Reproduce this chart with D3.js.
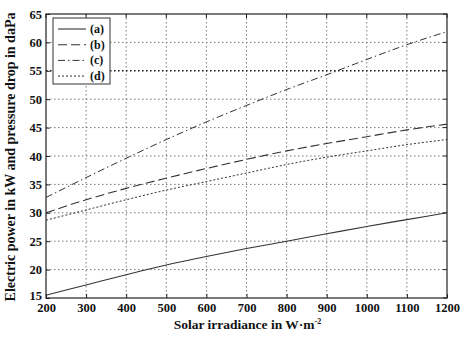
<!DOCTYPE html>
<html>
<head>
<meta charset="utf-8">
<script src="https://cdn.jsdelivr.net/npm/d3@7"></script>
<style>
  html, body { margin: 0; padding: 0; background: #fff; }
  svg { display: block; }
  text { font-family: "Liberation Serif", "Times New Roman", serif; font-weight: bold; fill: #111; }
</style>
</head>
<body>
<script>
// Solar irradiance (W·m^-2) sample points
const irradiance = [200, 300, 400, 500, 600, 700, 800, 900, 1000, 1100, 1200];
// Curves (a)–(d): electric power in kW / pressure drop in daPa
const seriesA = [15.5, 17.3, 19.1, 20.8, 22.3, 23.7, 25.0, 26.3, 27.6, 28.8, 30.0];
const seriesB = [30.0, 32.3, 34.3, 36.1, 37.8, 39.4, 40.9, 42.2, 43.4, 44.6, 45.6];
const seriesC = [32.7, 36.2, 39.6, 42.9, 46.0, 48.9, 51.7, 54.3, 57.0, 59.6, 61.9];
const seriesD = [28.7, 30.5, 32.3, 34.0, 35.5, 37.0, 38.5, 39.8, 40.9, 42.0, 42.9];
const seriesNames = ["(a)", "(b)", "(c)", "(d)"];
const xTicks = [200, 300, 400, 500, 600, 700, 800, 900, 1000, 1100, 1200];
const yTicks = [15, 20, 25, 30, 35, 40, 45, 50, 55, 60, 65];

const W = 474, H = 348;
const m = { left: 46, right: 27, top: 14, bottom: 50 };
const iw = W - m.left - m.right, ih = H - m.top - m.bottom;

const svg = d3.select("body").append("svg").attr("width", W).attr("height", H);
const g = svg.append("g").attr("transform", `translate(${m.left},${m.top})`);

const x = d3.scaleLinear().domain([200, 1200]).range([0, iw]);
const y = d3.scaleLinear().domain([15, 65]).range([ih, 0]);

// grid
g.append("g").selectAll("line").data(xTicks.slice(1, -1)).join("line")
  .attr("x1", d => x(d)).attr("x2", d => x(d)).attr("y1", 0).attr("y2", ih)
  .attr("stroke", "#777").attr("stroke-width", 1).attr("stroke-dasharray", "1.5,2.5");
g.append("g").selectAll("line").data(yTicks.slice(1, -1)).join("line")
  .attr("x1", 0).attr("x2", iw).attr("y1", d => y(d)).attr("y2", d => y(d))
  .attr("stroke", d => d === 55 ? "#111" : "#777")
  .attr("stroke-width", d => d === 55 ? 1.4 : 1)
  .attr("stroke-dasharray", "1.5,2.5");

// axes with inward ticks
const fmt = d3.format("d");
const xAxis = g.append("g").attr("transform", `translate(0,${ih})`)
  .call(d3.axisBottom(x).tickValues(xTicks).tickFormat(fmt).tickSizeInner(-4).tickSizeOuter(0).tickPadding(5));
const yAxis = g.append("g")
  .call(d3.axisLeft(y).tickValues(yTicks).tickFormat(fmt).tickSizeInner(-4).tickSizeOuter(0).tickPadding(4));
[xAxis, yAxis].forEach(a => {
  a.select(".domain").remove();
  a.selectAll("line").attr("stroke", "#222");
  a.selectAll("text").style("font-size", "12.5px").style("font-family", "Liberation Serif, serif").style("font-weight", "bold");
});
// lift the lowest y label clear of the first x label
yAxis.selectAll(".tick text").filter(d => d === 15).attr("dy", "0.1em");

// right/top inward ticks
g.append("g").selectAll("line").data(xTicks).join("line")
  .attr("x1", d => x(d)).attr("x2", d => x(d)).attr("y1", 0).attr("y2", 4).attr("stroke", "#222");
g.append("g").selectAll("line").data(yTicks).join("line")
  .attr("x1", iw).attr("x2", iw - 4).attr("y1", d => y(d)).attr("y2", d => y(d)).attr("stroke", "#222");

// frame
g.append("rect").attr("x", 0).attr("y", 0).attr("width", iw).attr("height", ih)
  .attr("fill", "none").attr("stroke", "#222").attr("stroke-width", 1.2);

// curves
const styles = [
  { data: seriesA, dash: null, w: 1.1 },
  { data: seriesB, dash: "9,4", w: 1.1 },
  { data: seriesC, dash: "7,3,1.5,3", w: 1 },
  { data: seriesD, dash: "2,2", w: 1 }
];
const line = d3.line().x((d, i) => x(irradiance[i])).y(d => y(d)).curve(d3.curveMonotoneX);
styles.forEach(s => {
  g.append("path").datum(s.data).attr("d", line)
    .attr("fill", "none").attr("stroke", "#333").attr("stroke-width", s.w)
    .attr("stroke-dasharray", s.dash);
});

// legend
const lg = svg.append("g").attr("transform", "translate(53,18)");
lg.append("rect").attr("width", 57).attr("height", 66)
  .attr("fill", "#fff").attr("stroke", "#333").attr("stroke-width", 1);
seriesNames.forEach((name, i) => {
  const yy = 11 + i * 15.7;
  lg.append("line").attr("x1", 5).attr("x2", 33).attr("y1", yy).attr("y2", yy)
    .attr("stroke", "#333").attr("stroke-width", styles[i].w)
    .attr("stroke-dasharray", styles[i].dash);
  lg.append("text").attr("x", 37).attr("y", yy + 4).style("font-size", "12px").text(name);
});

// axis titles
svg.append("text").attr("x", m.left + iw / 2 + 1).attr("y", 329).attr("text-anchor", "middle")
  .style("font-size", "13.5px")
  .html('Solar irradiance in W·m<tspan dy="-5" style="font-size:8px">-2</tspan>');
svg.append("text").attr("transform", `translate(15,${m.top + ih / 2 + 1}) rotate(-90)`)
  .attr("text-anchor", "middle").style("font-size", "14px")
  .text("Electric power in kW and pressure drop in daPa");
</script>
</body>
</html>
